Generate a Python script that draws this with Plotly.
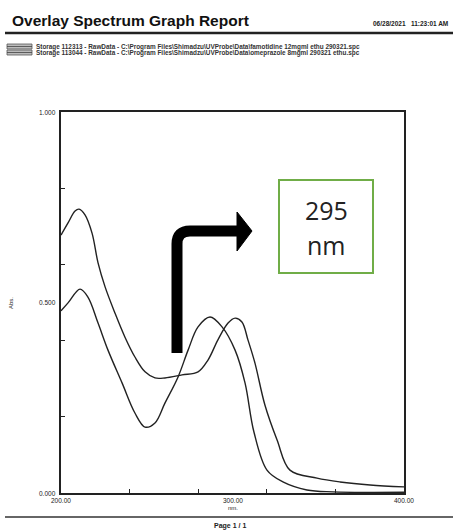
import plotly.graph_objects as go

# ---- data ----
wl_a = [200, 204.1, 208.2, 210.5, 214.0, 218.1, 221.6, 225.7, 231.5, 237.3, 243.1, 249.0,
        254.8, 260.6, 270.6, 279.9, 285.7, 291.5, 297.4, 301.5, 305.5, 309.0, 313.1, 318.9,
        326.0, 333.5, 349.3, 362.7, 380.2, 400]
abs_a = [0.677, 0.709, 0.740, 0.745, 0.730, 0.682, 0.604, 0.541, 0.472, 0.409, 0.357, 0.318,
         0.302, 0.302, 0.310, 0.318, 0.349, 0.402, 0.446, 0.459, 0.449, 0.402, 0.341, 0.231,
         0.139, 0.060, 0.039, 0.029, 0.021, 0.016]

wl_b = [200, 204.1, 211.1, 215.7, 221.6, 227.4, 235.6, 243.1, 249.0, 254.8, 260.6, 268.2,
        274.1, 279.9, 286.9, 293.9, 301.5, 307.3, 312.5, 320.1, 329.4, 343.4, 358.6, 400]
abs_b = [0.478, 0.499, 0.535, 0.514, 0.446, 0.375, 0.289, 0.210, 0.173, 0.184, 0.236, 0.304,
         0.375, 0.436, 0.462, 0.436, 0.375, 0.289, 0.160, 0.060, 0.029, 0.008, 0.003, 0.002]

x_tick_vals = [200, 240, 280, 320, 360, 400]
x_label_vals = [200, 300, 400]
x_label_text = ["200.00", "300.00", "400.00"]
y_tick_vals = [0, 0.2, 0.4, 0.6, 0.8, 1.0]
y_label_vals = [0, 0.5, 1.0]
y_label_text = ["0.000", "0.500", "1.000"]

legend_names = [
    "Storage 112313 - RawData - C:\\Program Files\\Shimadzu\\UVProbe\\Data\\famotidine 12mgml ethu 290321.spc",
    "Storage 113044 - RawData - C:\\Program Files\\Shimadzu\\UVProbe\\Data\\omeprazole 8mgml 290321 ethu.spc",
]

W, H = 453, 531
L, R, T, B = 61, 404, 112, 493


def px(x):
    return (x - L) / (R - L)


def py(y):
    return (B - y) / (B - T)


FONT = "Liberation Sans, Arial, sans-serif"


def txt(x, y, text, size, xanchor="center", yanchor="middle", xref="paper", yref="paper",
        color="#222", family=FONT, **kw):
    return dict(x=x, y=y, xref=xref, yref=yref, text=text, showarrow=False, xanchor=xanchor,
                yanchor=yanchor, font=dict(family=family, size=size, color=color), **kw)


fig = go.Figure()
fig.add_trace(go.Scatter(x=wl_a, y=abs_a, mode="lines", line=dict(color="#222", width=1.4, shape="spline"),
                         name=legend_names[0], showlegend=False))
fig.add_trace(go.Scatter(x=wl_b, y=abs_b, mode="lines", line=dict(color="#222", width=1.4, shape="spline"),
                         name=legend_names[1], showlegend=False))

fig.update_xaxes(range=[200, 400], tickvals=x_tick_vals, showticklabels=False, ticks="inside",
                 ticklen=4, tickcolor="#222", showline=True, linecolor="#222", linewidth=2,
                 mirror=True, showgrid=False, zeroline=False)
fig.update_yaxes(range=[0, 1], tickvals=y_tick_vals, showticklabels=False, ticks="inside",
                 ticklen=4, tickcolor="#222", showline=True, linecolor="#222", linewidth=2,
                 mirror=True, showgrid=False, zeroline=False)

ann = []
for v, t in zip(x_label_vals, x_label_text):
    ann.append(txt(v, py(500), t, 6.5, xref="x"))
for v, t in zip(y_label_vals, y_label_text):
    ann.append(txt(px(58), v, t, 6.5, xanchor="right", yref="y"))
ann.append(txt(300, py(508), "nm.", 6, xref="x"))
ann.append(txt(px(11), py(303), "Abs.", 6, textangle=-90))
# header
ann.append(txt(px(10), py(21), "<b>Overlay Spectrum Graph Report</b>", 15.5, xanchor="left", color="#111"))
ann.append(txt(px(450), py(23), "<b>06/28/2021   11:23:01 AM</b>", 6.5, xanchor="right"))
for i, name in enumerate(legend_names):
    ann.append(txt(px(34), py(47 + 6 * i), "<b>" + name + "</b>", 6.4, xanchor="left", color="#333"))
ann.append(txt(px(230), py(526), "<b>Page 1 / 1</b>", 7))
# green box text
ann.append(txt(px(326), py(210), "295", 25, family="Open Sans, sans-serif"))
ann.append(txt(px(326), py(245), "nm", 25, family="Open Sans, sans-serif"))

shapes = []
# header rules
shapes.append(dict(type="line", xref="paper", yref="paper", x0=px(5), x1=px(453), y0=py(33), y1=py(33),
                   line=dict(color="#222", width=2.5)))
shapes.append(dict(type="line", xref="paper", yref="paper", x0=px(5), x1=px(453), y0=py(517), y1=py(517),
                   line=dict(color="#333", width=1.5)))
# legend swatches
for i in range(2):
    y0 = 44 + 6 * i
    shapes.append(dict(type="rect", xref="paper", yref="paper", x0=px(7), x1=px(32), y0=py(y0), y1=py(y0 + 5),
                       line=dict(color="#555", width=0.8), fillcolor="#bbb"))
    shapes.append(dict(type="line", xref="paper", yref="paper", x0=px(7), x1=px(32), y0=py(y0 + 2.5),
                       y1=py(y0 + 2.5), line=dict(color="#444", width=0.8)))
# green box
shapes.append(dict(type="rect", xref="paper", yref="paper", x0=px(279), x1=px(373), y0=py(180), y1=py(273),
                   line=dict(color="#70AD47", width=2), fillcolor="white"))
# black bent arrow
path = "M {a},{b} L {a},{c} Q {a},{d} {e},{d} L {f},{d}".format(
    a=px(177), b=py(353), c=py(244), d=py(231), e=px(190), f=px(238))
shapes.append(dict(type="path", xref="paper", yref="paper", path=path, line=dict(color="black", width=11)))
head = "M {x0},{y0} L {x1},{ym} L {x0},{y2} Z".format(x0=px(237), y0=py(212), x1=px(252), ym=py(231), y2=py(251))
shapes.append(dict(type="path", xref="paper", yref="paper", path=head, fillcolor="black",
                   line=dict(color="black", width=1)))

fig.update_layout(width=W, height=H, margin=dict(l=L, r=W - R, t=T, b=H - B),
                  paper_bgcolor="white", plot_bgcolor="white", annotations=ann, shapes=shapes,
                  showlegend=False)
fig.write_html("out.html", config={"displayModeBar": False},
               post_script="document.body.style.margin='0';document.body.style.overflow='hidden';")
